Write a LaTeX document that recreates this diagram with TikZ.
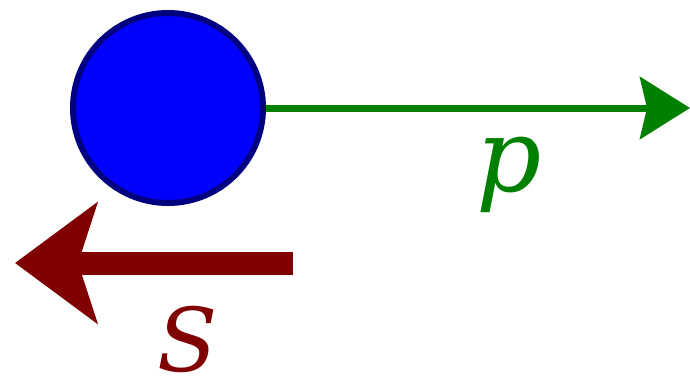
\documentclass[tikz,border=0pt]{standalone}
\usepackage{fontspec}
\setmainfont{DejaVu Serif}
\usepackage{tikz}
\usetikzlibrary{arrows.meta}
\definecolor{ballblue}{rgb}{0,0,1}
\definecolor{ballrim}{rgb}{0,0,0.5}
\definecolor{momgreen}{rgb}{0,0.5,0}
\definecolor{forcered}{rgb}{0.5,0,0}

\begin{document}
\begin{tikzpicture}[x=1pt,y=-1pt,
  ball/.style={circle,draw=ballrim,fill=ballblue,line width=6pt,minimum size=190pt,inner sep=0pt},
  vlabel/.style={inner sep=0pt,font=\fontsize{88}{88}\selectfont\itshape}]
  \useasboundingbox (0,0) rectangle (690,383);
  \node[ball] (B) at (168,108) {};
  \coordinate (ptip) at (690,108);
  \coordinate (sstart) at (293,263);
  \coordinate (stip) at (15,263);
  \draw[momgreen,line width=7pt,-{Stealth[length=50pt,width=62pt,inset=7pt]}] (B.east) -- (ptip);
  \draw[forcered,line width=23pt,-{Stealth[length=82pt,width=120pt,inset=19pt]}] (sstart) -- (stip);
  \node[vlabel,text=momgreen,font=\fontsize{102}{102}\selectfont\itshape] (p) at (509,175) {p};
  \node[vlabel,text=forcered] (S) at (188,339) {S};
\end{tikzpicture}
\end{document}
